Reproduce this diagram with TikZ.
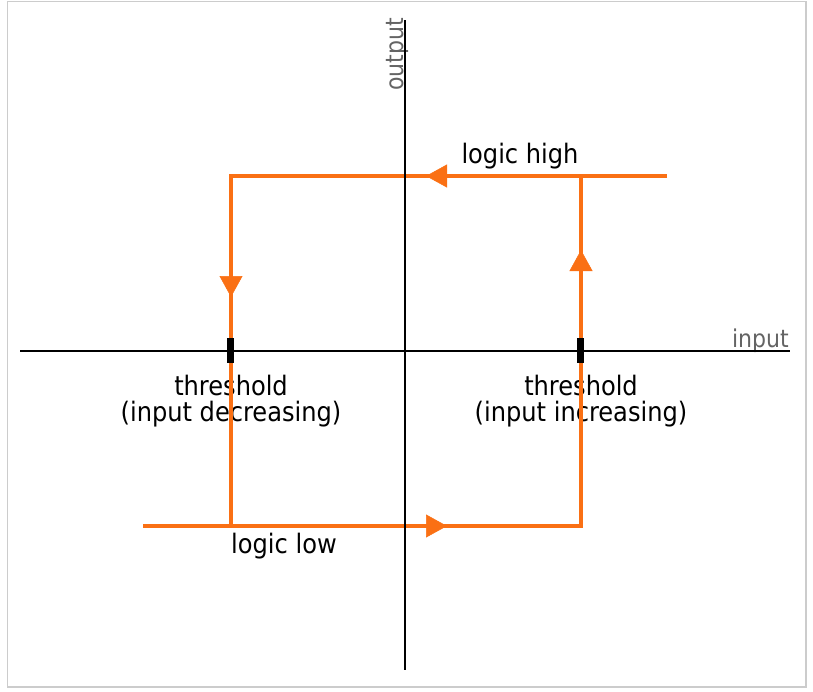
\documentclass[tikz,border=0pt]{standalone}
\usepackage{fontspec}
\setmainfont{DejaVu Sans Condensed}
\usetikzlibrary{arrows.meta}
\definecolor{hyst}{RGB}{250,112,20}
\definecolor{axlab}{RGB}{100,100,100}
\definecolor{frame}{RGB}{204,204,204}
\tikzset{
  lbl/.style={font=\fontsize{26.8}{30}\selectfont, text=black, inner sep=0pt},
  axislbl/.style={font=\fontsize{24.5}{27}\selectfont, text=axlab, inner sep=0pt},
  orangeline/.style={draw=hyst, line width=3.3pt},
  arrowhd/.style={draw=hyst, line width=0.5pt, -{Triangle[length=21pt,width=23pt]}},
  axisline/.style={draw=black, line width=2.2pt},
  tick/.style={draw=black, line width=7pt},
}
\begin{document}
\begin{tikzpicture}[x=1pt,y=-1pt]
\useasboundingbox (0,0) rectangle (813,691);
\draw[frame, line width=1.5pt] (7.5,1.5) rectangle (806,687);
% labels
\node[lbl, anchor=base] (lh) at (520,163) {logic high};
\node[lbl, anchor=base] (ll) at (284,553) {logic low};
\node[lbl, anchor=base] (t1a) at (231,395) {threshold};
\node[lbl, anchor=base] (t1b) at (231,421) {(input decreasing)};
\node[lbl, anchor=base] (t2a) at (581,395) {threshold};
\node[lbl, anchor=base] (t2b) at (581,421) {(input increasing)};
\node[axislbl, anchor=base east] (inl) at (789,347) {input};
\node[axislbl, anchor=base east, rotate=90] (outl) at (403,18) {output};
% hysteresis loop
\coordinate (TS) at (667,176);
\coordinate (TL) at (231,176);
\coordinate (BL) at (231,526);
\coordinate (BS) at (143,526);
\coordinate (BR) at (581,526);
\coordinate (TR) at (581,176);
\draw[orangeline] (TS) -- (TL) -- (BL);
\draw[orangeline] (BS) -- (BR) -- (TR);
% arrowheads
\coordinate (a1s) at (448,176); \coordinate (a1e) at (426,176);
\coordinate (a2s) at (231,275); \coordinate (a2e) at (231,297);
\coordinate (a3s) at (424,526); \coordinate (a3e) at (447,526);
\coordinate (a4s) at (581,272); \coordinate (a4e) at (581,250);
\draw[arrowhd] (a1s) -- (a1e);
\draw[arrowhd] (a2s) -- (a2e);
\draw[arrowhd] (a3s) -- (a3e);
\draw[arrowhd] (a4s) -- (a4e);
% axes
\coordinate (xl) at (20,351); \coordinate (xr) at (790,351);
\coordinate (yt) at (405,20); \coordinate (yb) at (405,670);
\draw[axisline] (xl) -- (xr);
\draw[axisline] (yt) -- (yb);
% threshold ticks
\coordinate (k1t) at (230,338); \coordinate (k1b) at (230,363);
\coordinate (k2t) at (580.5,338); \coordinate (k2b) at (580.5,363);
\draw[tick] (k1t) -- (k1b);
\draw[tick] (k2t) -- (k2b);
\end{tikzpicture}
\end{document}
